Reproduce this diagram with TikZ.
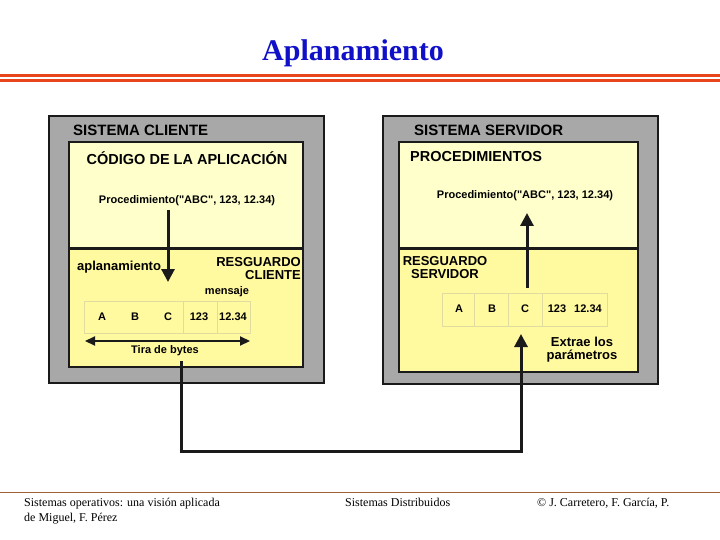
\documentclass[tikz,border=0pt]{standalone}
\usepackage{fontspec}
\setmainfont{Liberation Serif}
\newfontfamily\arial{Liberation Sans}
\usetikzlibrary{arrows.meta}
\definecolor{grayfill}{HTML}{A8A8A8}
\definecolor{lightyel}{HTML}{FFFFCC}
\definecolor{yel}{HTML}{FFF99F}
\definecolor{orangeline}{HTML}{E8451C}
\definecolor{footline}{HTML}{A0603A}
\definecolor{titleblue}{HTML}{1010C8}
\definecolor{cellline}{HTML}{E0DCA0}
\definecolor{boxline}{HTML}{1A1A1A}
\begin{document}
\begin{tikzpicture}[x=1pt,y=-1pt,
  outerbox/.style={draw=boxline,line width=2.5pt,fill=grayfill},
  innerline/.style={draw=boxline,line width=2.5pt},
  heading/.style={font=\arial\bfseries\fontsize{15}{18}\selectfont,inner sep=0pt},
  subhead/.style={font=\arial\bfseries\fontsize{14.5}{17}\selectfont,inner sep=0pt},
  label/.style={font=\arial\bfseries\fontsize{13}{13.5}\selectfont,inner sep=0pt},
  small/.style={font=\arial\bfseries\fontsize{11}{13}\selectfont,inner sep=0pt},
  cell/.style={draw=cellline,line width=0.8pt},
  conn/.style={draw=boxline,line width=3pt},
  bigtip/.style={-{Triangle[width=13pt,length=13pt]}},
  foot/.style={font=\fontsize{12}{14}\selectfont,inner sep=0pt,anchor=base west}
]
\useasboundingbox (0,0) rectangle (720,540);
\fill[white] (0,0) rectangle (720,540);
% title and rules
\node[font=\bfseries\fontsize{30}{34}\selectfont,text=titleblue,anchor=base,inner sep=0pt] (title) at (353,61) {Aplanamiento};
\fill[orangeline] (0,74) rectangle (720,77.5);
\fill[orangeline] (0,79) rectangle (720,82);
\draw[footline,line width=1pt] (0,492) -- (720,492);
\node[foot] (f1) at (24,506) {Sistemas operativos: una visión aplicada};
\node[foot] (f2) at (24,521) {de Miguel, F. Pérez};
\node[foot] (f3) at (345,506) {Sistemas Distribuidos};
\node[foot] (f4) at (537,506) {© J. Carretero, F. García, P.};
% client
\draw[outerbox] (49,116) rectangle (324,383);
\fill[lightyel] (69,142) rectangle (303,248);
\fill[yel] (69,248) rectangle (303,367);
\draw[innerline] (69,142) rectangle (303,367);
\draw[innerline,line width=3pt] (69,248) -- (303,248);
\node[heading,anchor=west] (sc) at (73,130) {SISTEMA CLIENTE};
\node[subhead] (cod) at (187,158) {CÓDIGO DE LA APLICACIÓN};
\node[small] (procL) at (187,201) {Procedimiento("ABC", 123, 12.34)};
\node[label,anchor=west] (apl) at (77,267) {aplanamiento};
\node[label,align=right,anchor=east] (resgC) at (301,268.5) {RESGUARDO\\CLIENTE};
\node[small] (mens) at (227,292) {mensaje};
\draw[cell] (84,301) rectangle (250,333);
\draw[cell] (183,301) -- (183,333);
\draw[cell] (217,301) -- (217,333);
\node[small] (lA) at (102,317) {A};
\node[small] (lB) at (135,317) {B};
\node[small] (lC) at (168,317) {C};
\node[small] (l123) at (199,317) {123};
\node[small] (l1234) at (233,317) {12.34};
\coordinate (tl) at (85,341);
\coordinate (tr) at (250,341);
\draw[draw=boxline,line width=2.2pt,{Triangle[width=9pt,length=10pt]}-{Triangle[width=9pt,length=10pt]}] (tl) -- (tr);
\node[small] (tira) at (165,351) {Tira de bytes};
\coordinate (la1) at (168,210);
\coordinate (la2) at (168,282);
\draw[conn,bigtip] (la1) -- (la2);
% server
\draw[outerbox] (383,116) rectangle (658,384);
\fill[lightyel] (399,142) rectangle (638,248);
\fill[yel] (399,248) rectangle (638,372);
\draw[innerline] (399,142) rectangle (638,372);
\draw[innerline,line width=3pt] (399,248) -- (638,248);
\node[heading,anchor=west] (ss) at (414,130) {SISTEMA SERVIDOR};
\node[subhead,anchor=west] (procs) at (410,157) {PROCEDIMIENTOS};
\node[small] (procR) at (525,196) {Procedimiento("ABC", 123, 12.34)};
\node[label,align=center] (resgS) at (445,267.5) {RESGUARDO\\SERVIDOR};
\draw[cell] (442,293) rectangle (607,326);
\draw[cell] (474,293) -- (474,326);
\draw[cell] (508,293) -- (508,326);
\draw[cell] (542,293) -- (542,326);
\node[small] (rA) at (459,309) {A};
\node[small] (rB) at (492,309) {B};
\node[small] (rC) at (525,309) {C};
\node[small] (r123) at (557,309) {123};
\node[small] (r1234) at (588,309) {12.34};
\node[label,align=center] (extr) at (582,349.5) {Extrae los\\parámetros};
\coordinate (ra1) at (527,288);
\coordinate (ra2) at (527,213);
\draw[conn,bigtip] (ra1) -- (ra2);
% connector
\coordinate (c0) at (181,361);
\coordinate (c1) at (181,451);
\coordinate (c2) at (521,451);
\coordinate (c3) at (521,334);
\draw[conn,bigtip] (c0) -- (c1) -- (c2) -- (c3);
\end{tikzpicture}
\end{document}
